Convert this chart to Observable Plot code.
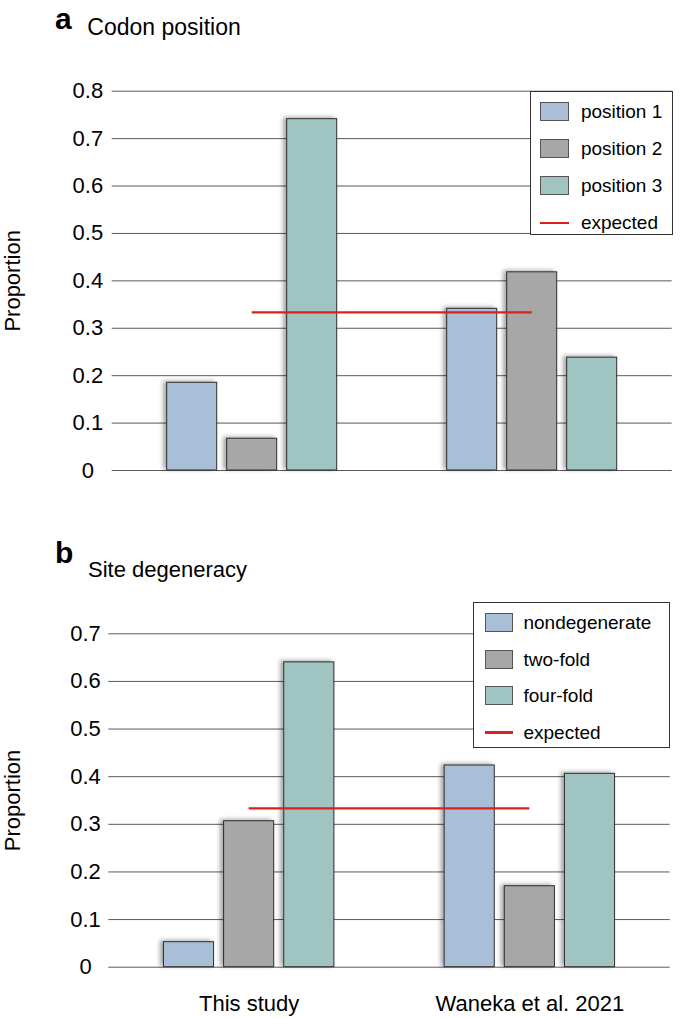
<!DOCTYPE html>
<html><head><meta charset="utf-8">
<script src="https://cdn.jsdelivr.net/npm/d3@7"></script>
<script src="https://cdn.jsdelivr.net/npm/@observablehq/plot@0.6"></script>
<style>
body{margin:0;background:#fff;font-family:"Liberation Sans",Arial,Helvetica,sans-serif;color:#000;}
#root{position:relative;width:680px;height:1018px;overflow:hidden;}
.panel{position:absolute;left:0;width:680px;}
.tag{position:absolute;font-weight:bold;font-size:30px;line-height:30px;white-space:nowrap;}
.ttl{position:absolute;line-height:1;white-space:nowrap;}
.legend{position:absolute;background:#fff;border:1px solid #333;box-sizing:border-box;}
.row{position:absolute;left:0;display:flex;align-items:center;font-size:19px;line-height:19px;white-space:nowrap;}
.sw{box-sizing:border-box;border:1px solid #555;}
</style></head><body><div id="root"></div>
<script>
// ---- data ----
const groups = ["This study", "Waneka et al. 2021"];
const seriesA = ["position 1", "position 2", "position 3"];
const thisStudyA = [0.185, 0.067, 0.741];
const wanekaA = [0.341, 0.418, 0.238];
const seriesB = ["nondegenerate", "two-fold", "four-fold"];
const thisStudyB = [0.0525, 0.3065, 0.640];
const wanekaB = [0.4235, 0.170, 0.406];
const expected = [1 / 3];
const expectedLabel = "expected";
const ticksA = [0, 0.1, 0.2, 0.3, 0.4, 0.5, 0.6, 0.7, 0.8];
const ticksB = [0, 0.1, 0.2, 0.3, 0.4, 0.5, 0.6, 0.7];
const yLabel = "Proportion";

// ---- styles ----
const colors = ["#a9bfd8", "#a7a7a7", "#9fc4c1"];
const red = "#dc1f1f";
const FONT = '"Liberation Sans", Arial, Helvetica, sans-serif';
const SLOT = 60 / 280;   // distance between bar centres, in group units
const BARW = 50 / 280;   // bar width, in group units

function rows(series, a, b) {
  const out = [];
  [a, b].forEach((vals, gi) => vals.forEach((v, si) => out.push({group: groups[gi], gi, series: series[si], si, value: v})));
  return out;
}
const fmt = d => d === 0 ? "0" : d.toFixed(1);

function panel({series, data, ticks, top, height, mt, mb, ml, mr, tickPad, showX}) {
  const marks = [
    Plot.gridY(ticks, {stroke: "#5a5a5a", strokeOpacity: 1, strokeWidth: 1}),
    Plot.axisY(ticks, {tickSize: 0, tickPadding: tickPad, textAnchor: "middle", tickFormat: fmt, fontSize: 22,
      label: yLabel, labelAnchor: "center", labelArrow: false, labelOffset: ml - 4}),
    Plot.rectY(data, {
      x1: d => d.gi + (d.si - 1) * SLOT - BARW / 2,
      x2: d => d.gi + (d.si - 1) * SLOT + BARW / 2,
      y: "value", fill: "series", stroke: "#2e2e2e", strokeWidth: 1,
      imageFilter: "drop-shadow(-3px -1px 2px rgba(0,0,0,0.35))"
    }),
    Plot.ruleY(expected, {x1: 0, x2: 1, stroke: red, strokeWidth: 2.2})
  ];
  if (showX) marks.push(Plot.axisX([0, 1], {tickSize: 0, tickPadding: 28, tickFormat: i => groups[i], fontSize: 22, label: null}));
  const svg = Plot.plot({
    width: 680, height, marginTop: mt, marginBottom: mb, marginLeft: ml, marginRight: mr,
    style: {fontFamily: FONT, fontSize: "22px", color: "#000", background: "transparent"},
    x: {domain: [-0.5, 1.5], axis: null},
    y: {domain: [0, ticks[ticks.length - 1]], axis: null},
    color: {domain: series, range: colors},
    marks
  });
  const wrap = document.createElement("div");
  wrap.className = "panel";
  wrap.style.top = top + "px";
  wrap.appendChild(svg);
  return wrap;
}

function legend({series, left, top, width, height, first, step, swLeft, gap}) {
  const box = document.createElement("div");
  box.className = "legend";
  Object.assign(box.style, {left: left + "px", top: top + "px", width: width + "px", height: height + "px"});
  const entries = series.map((s, i) => ({label: s, color: colors[i]})).concat([{label: expectedLabel, line: true}]);
  entries.forEach((e, i) => {
    const r = document.createElement("div");
    r.className = "row";
    r.style.top = (first + i * step - 10) + "px";
    r.style.height = "20px";
    r.style.left = (swLeft - 1) + "px";
    const sw = document.createElement("div");
    if (e.line) {
      Object.assign(sw.style, {width: "28.5px", height: "2.5px", background: red});
    } else {
      sw.className = "sw";
      Object.assign(sw.style, {width: "28.5px", height: "19px", background: e.color});
    }
    const t = document.createElement("span");
    t.textContent = e.label;
    t.style.marginLeft = gap + "px";
    r.appendChild(sw); r.appendChild(t);
    box.appendChild(r);
  });
  return box;
}

function title(tag, text, tagTop, textTop, textLeft, size) {
  const frag = document.createDocumentFragment();
  const a = document.createElement("div");
  a.className = "tag"; a.textContent = tag;
  Object.assign(a.style, {left: "55px", top: tagTop + "px"});
  const b = document.createElement("div");
  b.className = "ttl"; b.textContent = text;
  Object.assign(b.style, {left: textLeft + "px", top: textTop + "px", fontSize: size + "px"});
  frag.appendChild(a); frag.appendChild(b);
  return frag;
}

const root = document.getElementById("root");
root.appendChild(panel({series: seriesA, data: rows(seriesA, thisStudyA, wanekaA), ticks: ticksA,
  top: 0, height: 500, mt: 90.7, mb: 30, ml: 111.7, mr: 8.3, tickPad: 24.3, showX: false}));
root.appendChild(panel({series: seriesB, data: rows(seriesB, thisStudyB, wanekaB), ticks: ticksB,
  top: 520, height: 498, mt: 113.3, mb: 51.3, ml: 108.3, mr: 10.3, tickPad: 23.3, showX: true}));
root.appendChild(legend({series: seriesA, left: 530, top: 90.7, width: 143.3, height: 144.3, first: 20.3, step: 37, swLeft: 10, gap: 12.4}));
root.appendChild(legend({series: seriesB, left: 473.3, top: 602.3, width: 196.4, height: 146, first: 19, step: 36.8, swLeft: 11.7, gap: 10}));
root.appendChild(title("a", "Codon position", 3.9, 15.5, 87.3, 23));
root.appendChild(title("b", "Site degeneracy", 537.9, 558.7, 88, 22));
</script></body></html>
